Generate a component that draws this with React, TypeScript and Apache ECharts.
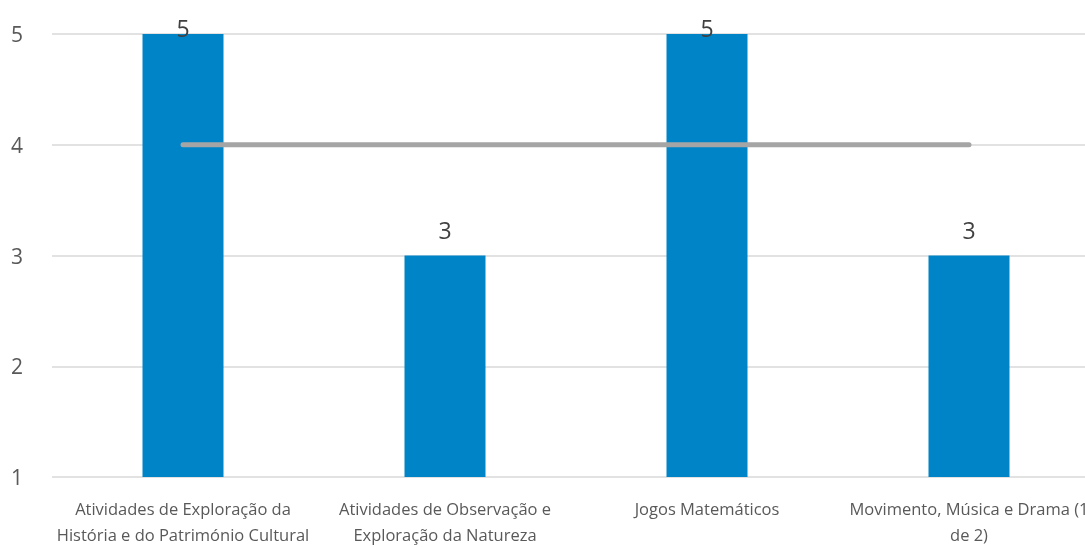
import React, { useEffect, useRef } from "react";
import * as echarts from "echarts";

const categories = [
  "Atividades de Exploração da\nHistória e do Património Cultural",
  "Atividades de Observação e\nExploração da Natureza",
  "Jogos Matemáticos",
  "Movimento, Música e Drama (1\nde 2)",
];
const barValues = [5, 3, 5, 3];
const lineValues = [4, 4, 4, 4];
const yTicks = [1, 2, 3, 4, 5];

const FONT = "Open Sans";
const GREY = "#595959";

export default function App() {
  const ref = useRef<HTMLDivElement>(null);
  useEffect(() => {
    if (!ref.current) return;
    const chart = echarts.init(ref.current, undefined, { renderer: "svg" });
    chart.setOption({
      animation: false,
      textStyle: { fontFamily: FONT },
      grid: { left: 52, right: 0, top: 34, bottom: 65, containLabel: false },
      xAxis: {
        type: "category",
        data: categories,
        axisLine: { show: false },
        axisTick: { show: false },
        axisLabel: {
          interval: 0,
          color: GREY,
          fontSize: 16.5,
          fontFamily: FONT,
          lineHeight: 26,
          margin: 18,
        },
      },
      yAxis: {
        type: "value",
        min: yTicks[0],
        max: yTicks[yTicks.length - 1],
        interval: 1,
        axisLine: { show: false },
        axisTick: { show: false },
        splitLine: { lineStyle: { color: "#D9D9D9", width: 1.5 } },
        axisLabel: { color: GREY, fontSize: 21, fontFamily: FONT, margin: 29 },
      },
      series: [
        {
          type: "bar",
          data: barValues.map((v) => ({
            value: v,
            label: {
              show: true,
              position: "top",
              distance: v === 5 ? -5 : 14,
              color: "#404040",
              fontSize: 23,
              fontFamily: FONT,
            },
          })),
          barWidth: 81,
          itemStyle: { color: "#0084C8" },
          z: 2,
        },
        {
          type: "line",
          data: lineValues,
          showSymbol: false,
          symbol: "none",
          lineStyle: { color: "#A5A5A5", width: 5, cap: "round" },
          z: 3,
        },
      ],
    });
    return () => chart.dispose();
  }, []);
  return (
    <div
      style={{
        position: "fixed",
        left: 0,
        top: 0,
        width: 1085,
        height: 547,
        overflow: "hidden",
      }}
    >
      <div ref={ref} style={{ width: 1100, height: 547 }} />
    </div>
  );
}
